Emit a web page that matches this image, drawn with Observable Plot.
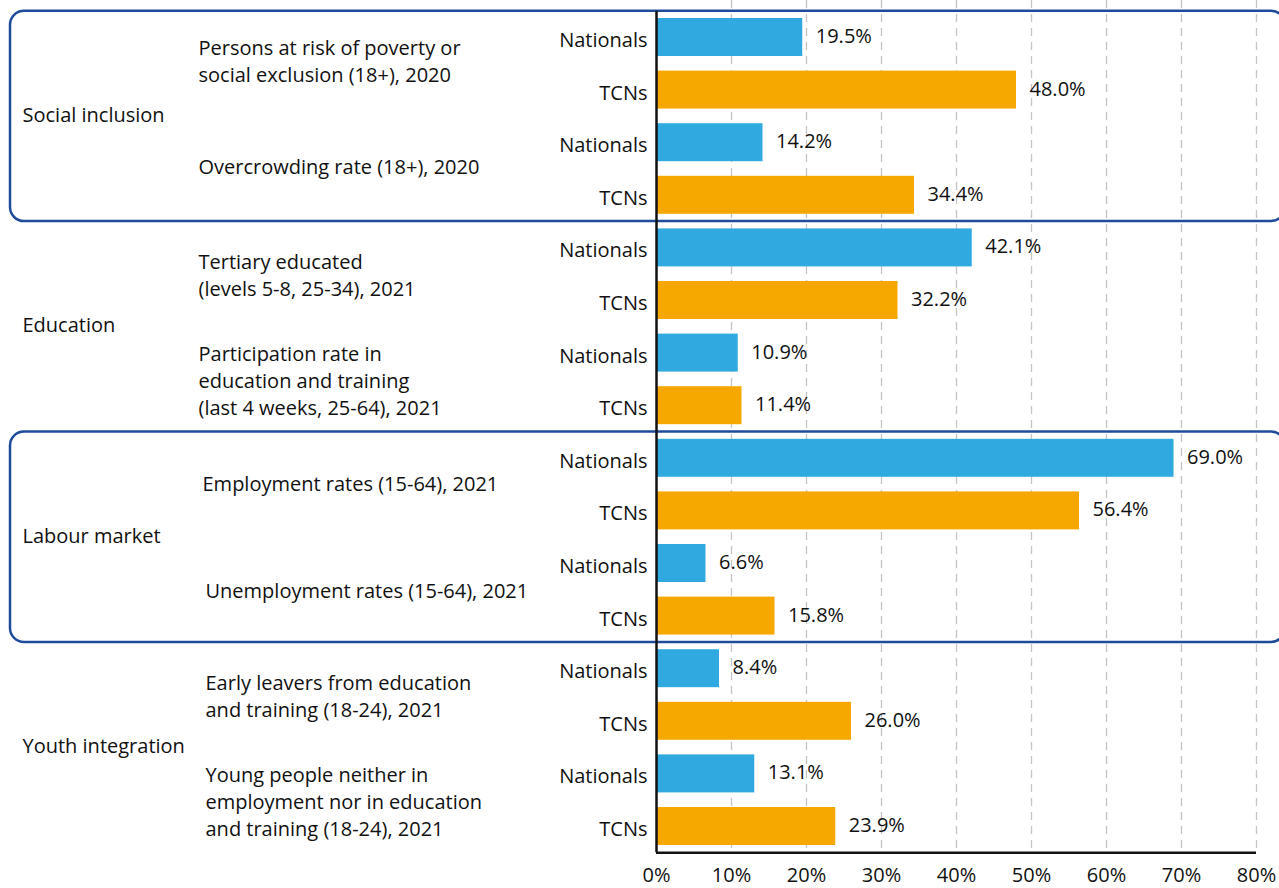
<!DOCTYPE html>
<html>
<head>
<meta charset="utf-8">
<script src="https://cdn.jsdelivr.net/npm/d3@7"></script>
<script src="https://cdn.jsdelivr.net/npm/@observablehq/plot@0.6"></script>
<style>
  html, body { margin: 0; padding: 0; background: #fff; }
  #chart svg { display: block; }
</style>
</head>
<body>
<div id="chart"></div>
<script>
// ---- Data ----
const categories = ["Social inclusion", "Education", "Labour market", "Youth integration"];
const indicators = [
  "Persons at risk of poverty or\nsocial exclusion (18+), 2020",
  "Overcrowding rate (18+), 2020",
  "Tertiary educated\n(levels 5-8, 25-34), 2021",
  "Participation rate in\neducation and training\n(last 4 weeks, 25-64), 2021",
  "Employment rates (15-64), 2021",
  "Unemployment rates (15-64), 2021",
  "Early leavers from education\nand training (18-24), 2021",
  "Young people neither in\nemployment nor in education\nand training (18-24), 2021"
];
const indicatorCategory = [0, 0, 1, 1, 2, 2, 3, 3];
const groups = ["Nationals", "TCNs"];
const nationals = [19.5, 14.2, 42.1, 10.9, 69.0, 6.6, 8.4, 13.1];
const tcns = [48.0, 34.4, 32.2, 11.4, 56.4, 15.8, 26.0, 23.9];
const xTicks = [0, 10, 20, 30, 40, 50, 60, 70, 80];
const boxedCategories = ["Social inclusion", "Labour market"];

// ---- Derived tables ----
const rows = [];
indicators.forEach((ind, k) => {
  rows.push({row: 2 * k, group: groups[0], value: nationals[k], indicator: ind});
  rows.push({row: 2 * k + 1, group: groups[1], value: tcns[k], indicator: ind});
});
const indicatorRows = indicators.map((ind, k) => ({label: ind, mid: 2 * k + 0.5, k}));
const categoryRows = categories.map((c, ci) => {
  const ks = indicatorCategory.map((v, k) => v === ci ? k : -1).filter(k => k >= 0);
  const first = 2 * ks[0], last = 2 * ks[ks.length - 1] + 1;
  return {label: c, first, last, mid: (first + last) / 2};
});
const boxes = categoryRows.filter(c => boxedCategories.includes(c.label));

const W = 1279, H = 888;
const mL = 656, mR = 23, mT = 10.7, mB = 35.7;
const half = 0.361;
const colors = {Nationals: "#2fa9df", TCNs: "#f6a800"};
const font = "'Open Sans', sans-serif";

const indicatorText = (filter, dx, dy) => Plot.text(indicatorRows, {
  filter, y: "mid", text: "label", frameAnchor: "left",
  textAnchor: "start", dx, dy, lineHeight: 1.35, fill: "#111"
});

const chart = Plot.plot({
  width: W,
  height: H,
  marginLeft: mL,
  marginRight: mR,
  marginTop: mT,
  marginBottom: mB,
  style: {fontFamily: font, fontSize: "20px", color: "#111", background: "#fff"},
  x: {domain: [0, 80], axis: null, label: null},
  y: {domain: [-0.5, 15.5], reverse: true, axis: null},
  marks: [
    // dashed grid
    Plot.ruleX(xTicks.filter(d => d > 0), {
      stroke: "#c4c4c4", strokeWidth: 1.3, strokeDasharray: "8,6", insetTop: -mT
    }),
    // group boxes
    Plot.rect(boxes, {
      x1: 0, x2: 80,
      y1: d => d.first - 0.5, y2: d => d.last + 0.5,
      insetLeft: -(mL - 10), insetRight: -(mR + 6),
      rx: 14, fill: "none", stroke: "#1f4c9a", strokeWidth: 2.5
    }),
    // bars
    Plot.rectX(rows, {
      x1: 0, x2: "value",
      y1: d => d.row - half, y2: d => d.row + half,
      fill: d => colors[d.group]
    }),
    // value labels
    Plot.text(rows, {
      x: "value", y: "row", text: d => d.value.toFixed(1) + "%",
      textAnchor: "start", dx: 13, dy: -1, fill: "#111"
    }),
    // row labels
    Plot.text(rows, {
      y: "row", text: "group", frameAnchor: "left",
      textAnchor: "end", dx: -9, dy: 3, fill: "#111"
    }),
    // indicator labels
    indicatorText(d => d.k < 2, -458, -4),
    indicatorText(d => d.k >= 2 && d.k < 4, -458, 0),
    indicatorText(d => d.k === 4, -454, -2),
    indicatorText(d => d.k > 4, -451, 0),
    // category labels
    Plot.text(categoryRows, {
      y: "mid", text: "label", frameAnchor: "left",
      textAnchor: "start", dx: -634, dy: -1, fill: "#111"
    }),
    // axes lines
    Plot.ruleX([0], {stroke: "#111", strokeWidth: 2.5}),
    Plot.ruleY([15.5], {stroke: "#111", strokeWidth: 2.5}),
    // x tick labels
    Plot.axisX({
      ticks: xTicks, tickFormat: d => d + "%", tickSize: 0,
      tickPadding: 15, fontSize: 20, anchor: "bottom", label: null
    })
  ]
});
document.getElementById("chart").appendChild(chart);
</script>
</body>
</html>
